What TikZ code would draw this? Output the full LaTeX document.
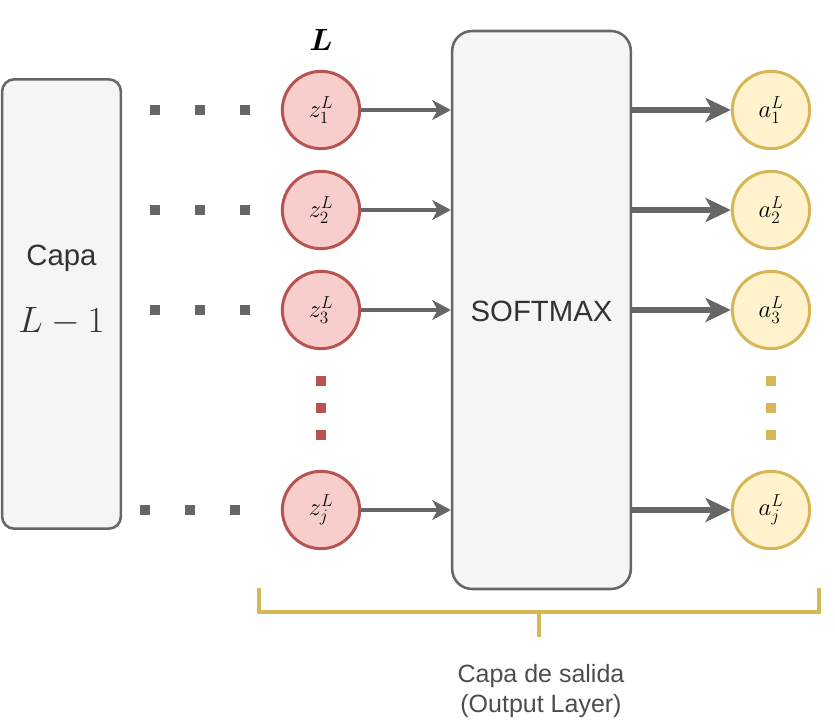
\RequirePackage{fix-cm}
\documentclass[tikz,border=0pt]{standalone}
\usepackage{amsmath}
\usepackage{bm}
\usepackage{fontspec}
\setsansfont{Liberation Sans}
\usetikzlibrary{arrows.meta}
\definecolor{edgegray}{HTML}{666666}
\definecolor{boxfill}{HTML}{F5F5F5}
\definecolor{txtgray}{HTML}{333333}
\definecolor{redfill}{HTML}{F8CECC}
\definecolor{reddraw}{HTML}{B85450}
\definecolor{yelfill}{HTML}{FFF2CC}
\definecolor{yeldraw}{HTML}{D6B656}
\definecolor{lbl}{HTML}{4D4D4D}
\tikzset{
  layerbox/.style={draw=edgegray, fill=boxfill, line width=1.9pt, inner sep=0pt},
  zneuron/.style={circle, draw=reddraw, fill=redfill, line width=2.25pt, minimum size=58pt, inner sep=0pt, font=\fontsize{18.5}{20}\selectfont},
  aneuron/.style={circle, draw=yeldraw, fill=yelfill, line width=2.25pt, minimum size=58pt, inner sep=0pt, font=\fontsize{18.5}{20}\selectfont},
  gdot/.style={rectangle, fill=edgegray, minimum size=7pt, inner sep=0pt},
  rdot/.style={rectangle, fill=reddraw, minimum size=7pt, inner sep=0pt},
  ydot/.style={rectangle, fill=yeldraw, minimum size=7pt, inner sep=0pt},
  inarr/.style={draw=edgegray, line width=3.3pt, -{Stealth[length=14pt, width=15pt, inset=4pt]}},
  outarr/.style={draw=edgegray, line width=3.8pt, -{Stealth[length=19pt, width=18pt, inset=5pt]}},
  bracket/.style={draw=yeldraw, line width=2.4pt},
}
\begin{document}
\begin{tikzpicture}[x=0.75pt,y=-0.75pt]
\useasboundingbox (0,0) rectangle (835,720);
% left layer box
\node[layerbox, rounded corners=9pt, minimum width=89pt, minimum height=337pt] (prev) at (61.5,304) {};
\node[font=\sffamily\fontsize{22}{26}\selectfont, text=txtgray] (capa) at (61.5,258) {Capa};
\node[font=\fontsize{27.5}{30}\selectfont, text=txtgray] (lm1) at (61.5,321) {$L-1$};
% softmax box
\node[layerbox, rounded corners=15pt, minimum width=134pt, minimum height=418.5pt] (soft) at (541.5,310) {};
\node[font=\sffamily\fontsize{22}{26}\selectfont, text=txtgray] (softtxt) at (541.5,311) {SOFTMAX};
% layer label
\node[font=\fontsize{23}{26}\selectfont] (Ltop) at (321,40) {$\bm{L}$};
% z neurons
\node[zneuron] (z1) at (321,110) {$z^L_1$};
\node[zneuron] (z2) at (321,210) {$z^L_2$};
\node[zneuron] (z3) at (321,310) {$z^L_3$};
\node[zneuron] (zj) at (321,510) {$z^L_j$};
% a neurons
\node[aneuron] (a1) at (771,110) {$a^L_1$};
\node[aneuron] (a2) at (771,210) {$a^L_2$};
\node[aneuron] (a3) at (771,310) {$a^L_3$};
\node[aneuron] (aj) at (771,510) {$a^L_j$};
% horizontal dots
\foreach \r/\y in {1/110,2/210,3/310}{
  \node[gdot] (g\r a) at (155,\y) {};
  \node[gdot] (g\r b) at (200,\y) {};
  \node[gdot] (g\r c) at (245,\y) {};
}
\node[gdot] (g4a) at (145,510) {};
\node[gdot] (g4b) at (190,510) {};
\node[gdot] (g4c) at (235,510) {};
% vertical dots
\foreach \i/\y in {1/381,2/408,3/435}{
  \node[rdot] (rd\i) at (321,\y) {};
  \node[ydot] (yd\i) at (771,\y) {};
}
% arrows into softmax
\foreach \n in {z1,z2,z3,zj}{
  \draw[inarr] (\n) -- (\n -| soft.west);
}
% arrows out of softmax
\foreach \n in {a1,a2,a3,aj}{
  \draw[outarr] (soft.east |- \n) -- (\n);
}
% bracket
\coordinate (bl) at (259,588);
\coordinate (br) at (819,588);
\coordinate (bm) at (539,612);
\coordinate (bt) at (539,637);
\draw[bracket] (bl) -- (bl |- bm) -- (br |- bm) -- (br);
\draw[bracket] (bm) -- (bt);
\node[font=\sffamily\fontsize{18.75}{22.5}\selectfont, text=lbl, align=center] (outlbl) at (541,691) {Capa de salida\\(Output Layer)};
\end{tikzpicture}
\end{document}
